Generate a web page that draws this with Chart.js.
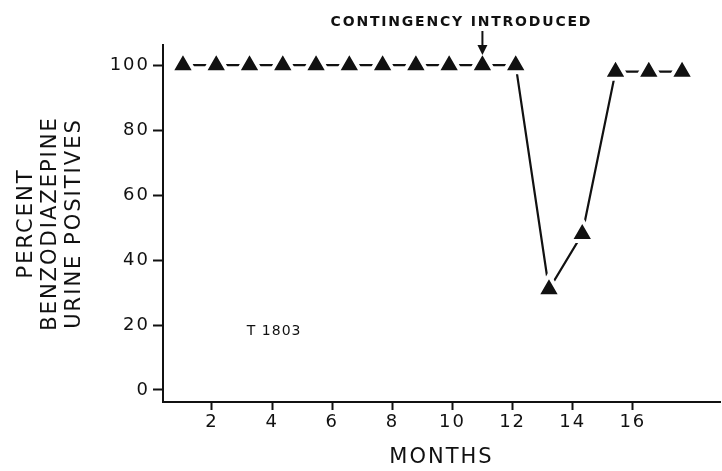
<!DOCTYPE html>
<html>
<head>
<meta charset="utf-8">
<script src="https://cdn.jsdelivr.net/npm/chart.js@4.4.1/dist/chart.umd.min.js"></script>
<style>
  html, body { margin: 0; padding: 0; background: #ffffff; }
  #wrap { width: 722px; height: 471px; position: relative; }
</style>
</head>
<body>
<div id="wrap"><canvas id="c"></canvas></div>
<script>
// ---- data ----
const months = [1, 2, 3, 4, 5, 6, 7, 8, 9, 10, 11, 12, 13, 14, 15, 16];
const percentPositive = [100, 100, 100, 100, 100, 100, 100, 100, 100, 100, 100, 31, 48, 98, 98, 98];
const xTickValues = [2, 4, 6, 8, 10, 12, 14, 16];
const yTickValues = [0, 20, 40, 60, 80, 100];
const yAxisTitle = ['PERCENT', 'BENZODIAZEPINE', 'URINE POSITIVES'];
const xAxisTitle = 'MONTHS';
const annotationText = 'CONTINGENCY INTRODUCED';
const contingencyMonth = 10;
const subjectLabel = 'T 1803';

const INK = '#111111';
const FONT = '"DejaVu Sans", "Liberation Sans", sans-serif';

const points = months.map((m, i) => ({ x: m, y: percentPositive[i] }));

function setSpacing(chart) {
  try { chart.ctx.letterSpacing = '2px'; } catch (e) {}
}

const extras = {
  id: 'extras',
  beforeLayout: setSpacing,
  beforeDraw: setSpacing,
  beforeDatasetsDraw: setSpacing,
  afterDraw(chart) {
    const ctx = chart.ctx;
    const xs = chart.scales.x;
    const ys = chart.scales.y;
    const ax = xs.getPixelForValue(contingencyMonth);
    ctx.save();
    ctx.fillStyle = INK;
    ctx.strokeStyle = INK;
    // annotation text
    try { ctx.letterSpacing = '1.8px'; } catch (e) {}
    ctx.font = 'bold 14px ' + FONT;
    ctx.textAlign = 'center';
    ctx.textBaseline = 'middle';
    ctx.fillText(annotationText, ax - 21, 22);
    // arrow
    ctx.lineWidth = 2;
    ctx.beginPath();
    ctx.moveTo(ax, 31);
    ctx.lineTo(ax, 47);
    ctx.stroke();
    ctx.beginPath();
    ctx.moveTo(ax - 5, 45);
    ctx.lineTo(ax + 5, 45);
    ctx.lineTo(ax, 55);
    ctx.closePath();
    ctx.fill();
    // subject label
    try { ctx.letterSpacing = '1px'; } catch (e) {}
    ctx.font = '14px ' + FONT;
    ctx.textAlign = 'left';
    ctx.fillText(subjectLabel, xs.getPixelForValue(2.92), ys.getPixelForValue(18));
    ctx.restore();
  }
};

new Chart(document.getElementById('c'), {
  type: 'line',
  data: {
    datasets: [{
      data: points,
      xAxisID: 'x',
      yAxisID: 'y',
      borderColor: INK,
      borderWidth: 2.2,
      tension: 0,
      fill: false,
      clip: false,
      pointStyle: 'triangle',
      pointRadius: 14,
      pointBackgroundColor: INK,
      pointBorderColor: '#ffffff',
      pointBorderWidth: 4,
      pointHoverRadius: 14
    }]
  },
  options: {
    responsive: true,
    maintainAspectRatio: false,
    animation: false,
    devicePixelRatio: 1,
    layout: { autoPadding: false, padding: { top: 45, right: 2, bottom: 0, left: 0 } },
    plugins: {
      legend: { display: false },
      tooltip: { enabled: false },
      title: { display: false }
    },
    scales: {
      x: {
        type: 'linear',
        position: 'bottom',
        display: false,
        min: 0.4,
        max: 17.14
      },
      xt: {
        type: 'linear',
        position: 'bottom',
        min: 0.37,
        max: 18.9,
        afterBuildTicks(scale) { scale.ticks = xTickValues.map(v => ({ value: v })); },
        afterFit(scale) { scale.height = 69; scale.paddingLeft = 0; scale.paddingRight = 0; },
        grid: {
          drawOnChartArea: false,
          drawTicks: true,
          tickLength: 8,
          tickWidth: 2,
          tickColor: INK
        },
        border: { display: true, color: INK, width: 2 },
        ticks: {
          color: INK,
          font: { family: FONT, size: 18 },
          padding: 2,
          maxRotation: 0,
          autoSkip: false
        },
        title: {
          display: true,
          text: xAxisTitle,
          color: INK,
          font: { family: FONT, size: 21, lineHeight: 1.2 },
          padding: { top: 0, bottom: 1 }
        }
      },
      y: {
        type: 'linear',
        position: 'left',
        min: -3.7,
        max: 106.2,
        afterBuildTicks(scale) { scale.ticks = yTickValues.map(v => ({ value: v })); },
        afterFit(scale) { scale.width = 163; scale.paddingTop = 0; scale.paddingBottom = 0; },
        grid: {
          drawOnChartArea: false,
          drawTicks: true,
          tickLength: 10,
          tickWidth: 2,
          tickColor: INK
        },
        border: { display: true, color: INK, width: 2 },
        ticks: {
          color: INK,
          font: { family: FONT, size: 18 },
          padding: 3
        },
        title: {
          display: true,
          text: yAxisTitle,
          color: INK,
          font: { family: FONT, size: 21, lineHeight: 1.143 },
          padding: { top: 15, bottom: 0 }
        }
      }
    }
  },
  plugins: [extras]
});
</script>
</body>
</html>
